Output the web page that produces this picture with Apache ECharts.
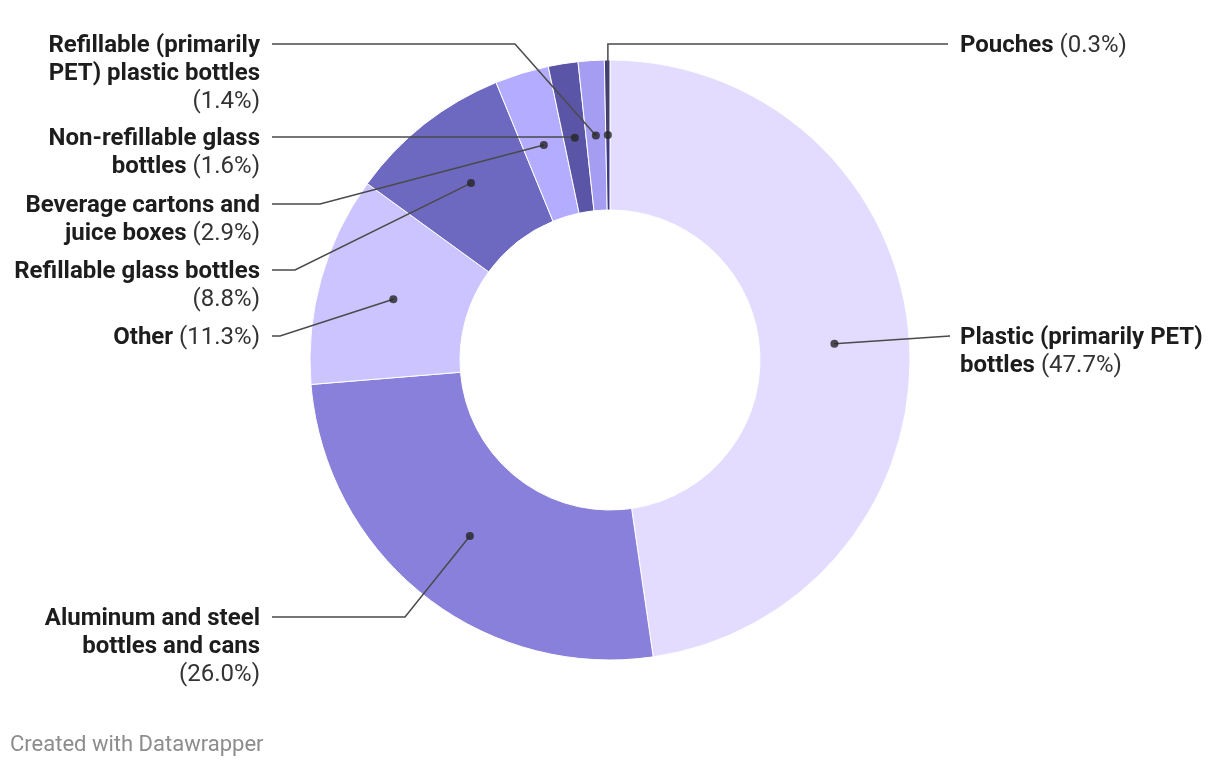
<!DOCTYPE html>
<html>
<head>
<meta charset="utf-8">
<script src="https://cdn.jsdelivr.net/npm/echarts@6/dist/echarts.min.js"></script>
<style>
html,body{margin:0;padding:0;background:#fff;}
#chart{width:1220px;height:766px;}
</style>
</head>
<body>
<div id="chart"></div>
<script>
// ---- data ----
const categories = [
  'Plastic (primarily PET) bottles',
  'Aluminum and steel bottles and cans',
  'Other',
  'Refillable glass bottles',
  'Beverage cartons and juice boxes',
  'Non-refillable glass bottles',
  'Refillable (primarily PET) plastic bottles',
  'Pouches'
];
const shares = [47.7, 26.0, 11.3, 8.8, 2.9, 1.6, 1.4, 0.3];
// how the label text wraps in the picture
const wrappedNames = [
  'Plastic (primarily PET)\nbottles',
  'Aluminum and steel\nbottles and cans',
  'Other',
  'Refillable glass bottles',
  'Beverage cartons and\njuice boxes',
  'Non-refillable glass\nbottles',
  'Refillable (primarily\nPET) plastic bottles',
  'Pouches'
];
const valueOnOwnLine = [false, true, false, true, false, false, true, false];

// ---- styles / layout ----
const colors = ['#e3dcff', '#8880da', '#cbc4fe', '#6e69c0', '#b4acfe', '#5b55a8', '#a49df2', '#3f3a85'];
const labelSide = ['right', 'left', 'left', 'left', 'left', 'left', 'left', 'right'];
const labelLineY = [336, 617, 336, 270, 204, 137, 44, 44];
const elbowX = [950, 405, 280, 295, 320, null, 515, null];
const CENTER = [610, 360];
const R_OUT = 300, R_IN = 150, R_DOT = 225;
const LEFT_TEXT_X = 260, LEFT_LINE_X = 272;
const RIGHT_TEXT_X = 960, RIGHT_LINE_X = 948;
const LINE_H = 28, TEXT_SHIFT = 2;

const total = shares.reduce((a, b) => a + b, 0);
let cum = 0;
const dotData = shares.map(v => { const mid = cum + v / 2; cum += v; return [R_DOT, mid / total * 100]; });

const pieData = categories.map((c, i) => ({ name: c, value: shares[i], itemStyle: { color: colors[i] } }));
const labelData = categories.map((c, i) => ({ name: c, value: shares[i] }));

function fmtLabel(p) {
  const i = p.dataIndex;
  const s = labelSide[i] === 'left' ? 'L' : 'R';
  const val = '(' + shares[i].toFixed(1) + '%)';
  const name = '{b' + s + '|' + wrappedNames[i] + '}';
  return valueOnOwnLine[i] ? name + '\n{n' + s + '|' + val + '}' : name + '{n' + s + '| ' + val + '}';
}

const txtBase = { fontFamily: 'Roboto', fontSize: 24, lineHeight: LINE_H };
const chart = echarts.init(document.getElementById('chart'), null, { renderer: 'canvas' });
chart.setOption({
  animation: false,
  backgroundColor: '#ffffff',
  title: {
    text: 'Created with Datawrapper',
    left: 10, top: 734, padding: 0,
    textStyle: { fontFamily: 'Roboto', fontSize: 22, fontWeight: 'normal', color: '#8c8c8c' }
  },
  polar: { center: CENTER, radius: [0, R_OUT] },
  angleAxis: { type: 'value', min: 0, max: 100, startAngle: 90, clockwise: true, show: false },
  radiusAxis: { type: 'value', min: 0, max: R_OUT, show: false },
  series: [
    {
      type: 'pie',
      z: 1,
      center: CENTER,
      radius: [R_IN, R_OUT],
      startAngle: 90,
      clockwise: true,
      silent: true,
      label: { show: false },
      labelLine: { show: false },
      itemStyle: { borderColor: '#ffffff', borderWidth: 1 },
      data: pieData
    },
    {
      type: 'pie',
      z: 5,
      center: CENTER,
      radius: [R_DOT - 1, R_DOT],
      startAngle: 90,
      clockwise: true,
      silent: true,
      avoidLabelOverlap: false,
      itemStyle: { color: 'rgba(0,0,0,0)', borderWidth: 0 },
      label: {
        show: true,
        position: 'outside',
        formatter: fmtLabel,
        color: '#1d1d1d',
        rich: {
          bL: Object.assign({ fontWeight: 'bold', color: '#1d1d1d', align: 'right' }, txtBase),
          nL: Object.assign({ fontWeight: 'normal', color: '#333333', align: 'right' }, txtBase),
          bR: Object.assign({ fontWeight: 'bold', color: '#1d1d1d', align: 'left' }, txtBase),
          nR: Object.assign({ fontWeight: 'normal', color: '#333333', align: 'left' }, txtBase)
        }
      },
      labelLine: { show: true, length: 10, length2: 10, lineStyle: { color: '#4a4a4a', width: 1.5 } },
      labelLayout: function (p) {
        const i = p.dataIndex;
        const left = labelSide[i] === 'left';
        const start = p.labelLinePoints[0];
        const y = labelLineY[i];
        const ex = elbowX[i] == null ? start[0] : elbowX[i];
        const endX = left ? LEFT_LINE_X : RIGHT_LINE_X;
        return {
          x: left ? LEFT_TEXT_X : RIGHT_TEXT_X,
          y: y - LINE_H / 2 + TEXT_SHIFT,
          align: left ? 'right' : 'left',
          verticalAlign: 'top',
          labelLinePoints: [start, [ex, y], [endX, y]]
        };
      },
      data: labelData
    },
    {
      type: 'scatter',
      coordinateSystem: 'polar',
      symbol: 'circle',
      symbolSize: 8,
      silent: true,
      z: 10,
      itemStyle: { color: '#262626' },
      data: dotData
    }
  ]
});
</script>
</body>
</html>
